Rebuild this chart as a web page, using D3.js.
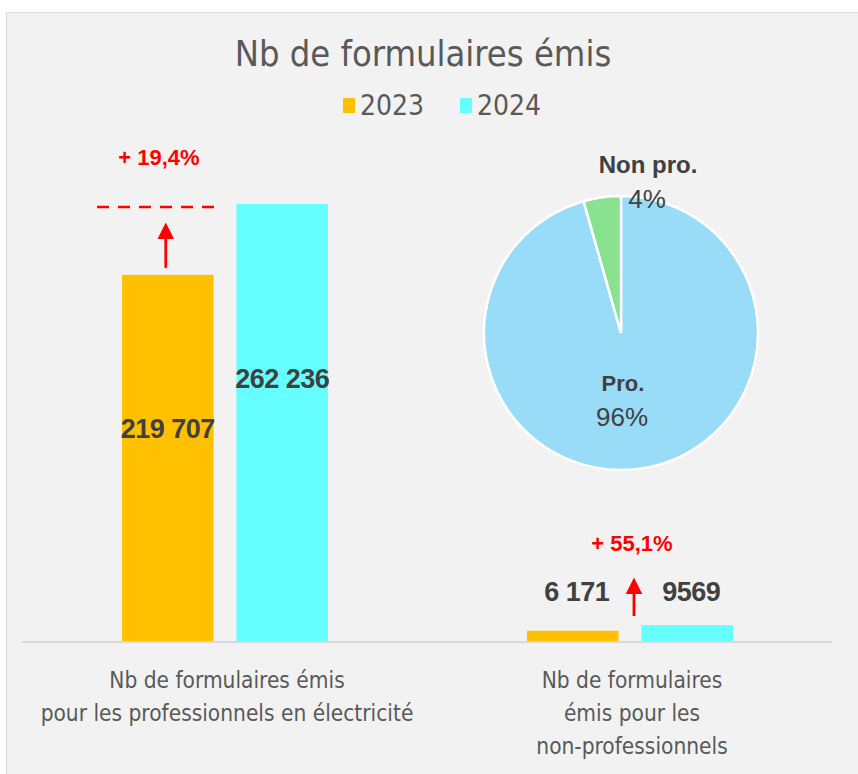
<!DOCTYPE html>
<html>
<head>
<meta charset="utf-8">
<script src="https://cdn.jsdelivr.net/npm/d3@7"></script>
<style>
  body { margin: 0; background: #fff; }
  text { font-family: "Liberation Sans Narrow", "DejaVu Sans Condensed", "Liberation Sans", sans-serif; }
  .num { font-family: "Liberation Sans", Arial, sans-serif; font-weight: bold; }
</style>
</head>
<body>
<svg width="858" height="774"></svg>
<script>
var categories = ["Nb de formulaires émis|pour les professionnels en électricité",
                  "Nb de formulaires|émis pour les|non-professionnels"];
var years = ["2023", "2024"];
var values2023 = [219707, 6171];
var values2024 = [262236, 9569];
var pieLabels = ["Pro.", "Non pro."];
var pieShares = [95.6, 4.4];

var colors = { "2023": "#FFC000", "2024": "#66FFFF" };
var pieColors = ["#99DCF7", "#88E290"];

var svg = d3.select("svg"),
    width = +svg.attr("width"),
    height = +svg.attr("height");

svg.append("rect")
    .attr("x", 6.5).attr("y", 12.5)
    .attr("width", 860).attr("height", 770)
    .attr("fill", "#f2f2f2")
    .attr("stroke", "#d9d9d9");

// title + legend
svg.append("text")
    .attr("x", 423).attr("y", 66)
    .attr("text-anchor", "middle")
    .attr("font-size", 36)
    .attr("fill", "#595959")
    .text("Nb de formulaires émis");

var legend = svg.append("g").selectAll("g")
    .data(years)
    .enter().append("g")
    .attr("transform", function (d, i) { return "translate(" + (343 + i * 117) + ",0)"; });
legend.append("rect")
    .attr("y", 98).attr("width", 12).attr("height", 15)
    .attr("fill", function (d) { return colors[d]; });
legend.append("text")
    .attr("x", 17).attr("y", 115)
    .attr("font-size", 28)
    .attr("fill", "#595959")
    .text(function (d) { return d; });

// scales
var x0 = d3.scaleBand().domain(categories).range([22.5, 832.5]);
var x1 = d3.scaleBand().domain(years).range([99.5, 305.5]).paddingInner(0.2);
var y = d3.scaleLinear().domain([0, 300000]).range([641, 141]);

var rows = categories.map(function (c, i) {
    return { cat: c, vals: [
        { year: "2023", value: values2023[i] },
        { year: "2024", value: values2024[i] }] };
});

var group = svg.append("g").selectAll("g")
    .data(rows)
    .enter().append("g")
    .attr("transform", function (d) { return "translate(" + x0(d.cat) + ",0)"; });

group.selectAll("rect")
    .data(function (d) { return d.vals; })
    .enter().append("rect")
    .attr("x", function (d) { return x1(d.year); })
    .attr("y", function (d) { return y(d.value); })
    .attr("width", x1.bandwidth())
    .attr("height", function (d) { return y(0) - y(d.value); })
    .attr("fill", function (d) { return colors[d.year]; });

var fmt = function (v) { return d3.format(",")(v).replace(/,/g, " "); };

// value labels (the 2024 small one is written without separator)
group.selectAll("text.num")
    .data(function (d, i) { return d.vals.map(function (v) { return { v: v, big: i == 0 }; }); })
    .enter().append("text")
    .attr("class", "num")
    .attr("x", function (d) { return x1(d.v.year) + x1.bandwidth() / 2 + (d.big ? 0 : 4); })
    .attr("y", function (d) {
        if (!d.big) return y(0) - 40;
        return d.v.year == "2023" ? y(d.v.value * 0.58) + 9 : y(d.v.value * 0.6) + 9;
    })
    .attr("text-anchor", "middle")
    .attr("font-size", 27)
    .attr("letter-spacing", -0.5)
    .attr("fill", "#404040")
    .text(function (d) { return (d.big || d.v.year == "2023") ? fmt(d.v.value) : d.v.value; });

// axis line
svg.append("line")
    .attr("x1", 22).attr("x2", 832)
    .attr("y1", y(0) + 1).attr("y2", y(0) + 1)
    .attr("stroke", "#d9d9d9").attr("stroke-width", 2);

// category labels
svg.append("g").selectAll("text")
    .data(categories)
    .enter().append("text")
    .attr("text-anchor", "middle")
    .attr("font-size", 22.5)
    .attr("fill", "#595959")
    .each(function (d) {
        var t = d3.select(this);
        d.split("|").forEach(function (line, i) {
            t.append("tspan")
                .attr("x", x0(d) + x0.bandwidth() / 2 + 2)
                .attr("y", 688 + i * 33)
                .text(line);
        });
    });

// growth annotations
var defs = svg.append("defs");
defs.append("marker")
    .attr("id", "arr")
    .attr("viewBox", "0 0 10 10")
    .attr("refX", 2).attr("refY", 5)
    .attr("markerWidth", 6).attr("markerHeight", 6)
    .attr("orient", "auto")
    .append("path").attr("d", "M0,0 L10,5 L0,10 z").attr("fill", "red");

var pct = function (a, b) { return "+ " + d3.format(".1f")((b / a - 1) * 100).replace(".", ",") + "%"; };

var cx1 = x0(categories[0]) + x1("2023") + x1.bandwidth() / 2;
svg.append("line")
    .attr("x1", 97).attr("x2", 214)
    .attr("y1", y(values2024[0]) + 3).attr("y2", y(values2024[0]) + 3)
    .attr("stroke", "red").attr("stroke-width", 2.5)
    .attr("stroke-dasharray", "12,9");
svg.append("line")
    .attr("x1", cx1 - 2).attr("x2", cx1 - 2)
    .attr("y1", y(values2023[0]) - 7).attr("y2", y(values2024[0]) + 32)
    .attr("stroke", "red").attr("stroke-width", 2.8)
    .attr("marker-end", "url(#arr)");
svg.append("text")
    .attr("class", "num")
    .attr("x", 159).attr("y", y(values2024[0]) - 39)
    .attr("text-anchor", "middle")
    .attr("font-size", 22)
    .attr("fill", "red")
    .text(pct(values2023[0], values2024[0]));

var cx2 = x0(categories[1]) + x0.bandwidth() / 2 + 4;
svg.append("line")
    .attr("x1", cx2).attr("x2", cx2)
    .attr("y1", y(0) - 25).attr("y2", y(0) - 50)
    .attr("stroke", "red").attr("stroke-width", 2.8)
    .attr("marker-end", "url(#arr)");
svg.append("text")
    .attr("class", "num")
    .attr("x", cx2 - 2).attr("y", 551)
    .attr("text-anchor", "middle")
    .attr("font-size", 22)
    .attr("fill", "red")
    .text(pct(values2023[1], values2024[1]));

// pie
var pcx = 621, pcy = 333, r = 137;
var pie = d3.pie().sort(null);
var arc = d3.arc().innerRadius(0).outerRadius(r);
var slices = pie(pieShares);
var pg = svg.append("g").attr("transform", "translate(" + pcx + "," + pcy + ")");
pg.selectAll("path")
    .data(slices)
    .enter().append("path")
    .attr("d", arc)
    .attr("fill", function (d, i) { return pieColors[i]; })
    .attr("stroke", "#fff").attr("stroke-width", 2.5);

pg.selectAll("text")
    .data(slices)
    .enter().append("text")
    .attr("class", "num")
    .attr("text-anchor", "middle")
    .attr("fill", "#404040")
    .each(function (d, i) {
        var c = i == 0 ? [2, 58] : [27, -160];
        var t = d3.select(this);
        t.append("tspan").attr("x", c[0]).attr("y", c[1])
            .attr("font-size", i == 0 ? 22 : 24)
            .text(pieLabels[i]);
        t.append("tspan").attr("x", c[0] - 1).attr("y", c[1] + 35)
            .attr("font-weight", "normal")
            .attr("font-size", 26)
            .text(Math.round(d.data) + "%");
    });
</script>
</body>
</html>
